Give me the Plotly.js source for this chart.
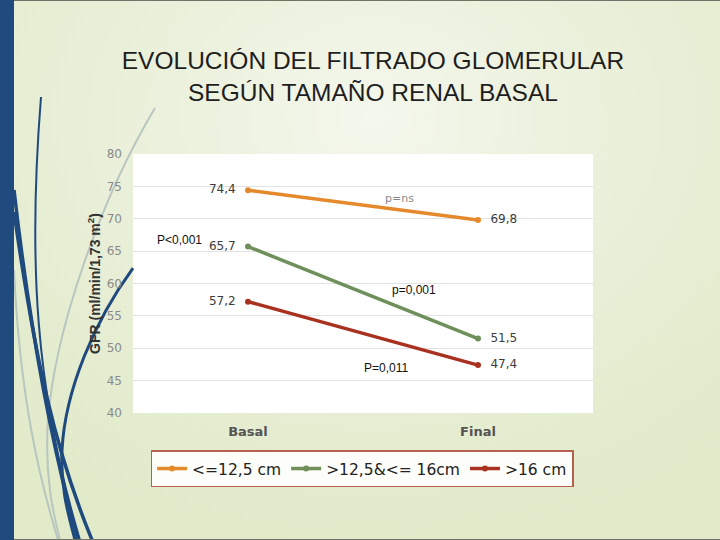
<!DOCTYPE html>
<html>
<head>
<meta charset="utf-8">
<script src="https://cdn.plot.ly/plotly-3.0.1.min.js"></script>
<style>
html,body{margin:0;padding:0;}
body{width:720px;height:540px;overflow:hidden;
background:radial-gradient(ellipse 75% 80% at 52% 22%, #f4f7ec 0%, #eaf0da 45%, #e1eac9 100%);}
#chart{width:720px;height:540px;}
</style>
</head>
<body>
<div id="chart"></div>
<script>
// ---- data ----
const categories = ["Basal", "Final"];
const seriesNames = ["&lt;=12,5 cm", "&gt;12,5&amp;&lt;= 16cm", "&gt;16 cm"];
const small = [74.4, 69.8];
const medium = [65.7, 51.5];
const large = [57.2, 47.4];
const labelsSmall = ["74,4", "69,8"];
const labelsMedium = ["65,7", "51,5"];
const labelsLarge = ["57,2", "47,4"];
const pTexts = ["p=ns", "P&lt;0,001", "p=0,001", "P=0,011"];
const yTickVals = [40, 45, 50, 55, 60, 65, 70, 75, 80];

const colors = ["#e58a2c", "#6f8f5b", "#a8321f"];
const values = [small, medium, large];
const labels = [labelsSmall, labelsMedium, labelsLarge];

const traces = values.map((v, i) => ({
  type: "scatter",
  mode: "lines+markers+text",
  x: categories,
  y: v,
  name: seriesNames[i],
  text: labels[i],
  texttemplate: ["%{text}&nbsp;&nbsp;", "&nbsp;&nbsp;%{text}"],
  textposition: ["middle left", "middle right"],
  textfont: {family: "DejaVu Sans, sans-serif", size: 12, color: "#3c3c3c"},
  line: {color: colors[i], width: 3.5},
  marker: {color: colors[i], size: 6},
  cliponaxis: false,
  hoverinfo: "skip"
}));

// plot-area geometry helpers for decorative shapes (pixel -> paper)
const L = 133, T = 154, W = 460, H = 259;
function P(x, y) { return ((x - L) / W).toFixed(4) + "," + ((T + H - y) / H).toFixed(4); }
function path(cmds) {
  return cmds.map(c => c[0] + " " + c.slice(1).map(p => P(p[0], p[1])).join(" ")).join(" ");
}
const blue = "#1f4a7e", gray = "#b9c6bf";
const deco = [
  {pts: [["M",[155,108]],["C",[100,200],[55,330],[48,420]],["C",[44,480],[55,520],[60,540]]], color: gray, w: 2},
  {pts: [["M",[14,270]],["C",[20,400],[40,480],[58,540]]], color: gray, w: 2},
  {pts: [["M",[41,97]],["C",[28,260],[35,390],[80,540]]], color: blue, w: 2},
  {pts: [["M",[14,190]],["C",[30,330],[50,440],[78,540]]], color: blue, w: 3.5},
  {pts: [["M",[14,212]],["C",[35,360],[55,450],[92,540]]], color: blue, w: 3.5},
  {pts: [["M",[133,268]],["C",[95,320],[65,390],[62,450]],["C",[60,490],[70,520],[75,540]]], color: blue, w: 3},
  {pts: [["M",[0,0.5]],["L",[720,0.5]]], color: "#6e7266", w: 1},
  {pts: [["M",[0,539.5]],["L",[720,539.5]]], color: "#6e7266", w: 1}
];
const shapes = deco.map(d => ({
  type: "path", xref: "paper", yref: "paper", layer: "below",
  path: path(d.pts), line: {color: d.color, width: d.w}
}));
shapes.push({type: "rect", xref: "paper", yref: "paper", layer: "below",
  x0: (0 - L) / W, x1: (14 - L) / W, y0: (T + H - 540) / H, y1: (T + H) / H,
  fillcolor: blue, line: {width: 0}});

const annFont = {family: "Liberation Sans, Arial, sans-serif", size: 12, color: "#111"};
const annotations = [
  {x: 0.66, y: 73.2, text: pTexts[0], font: {family: "DejaVu Sans, sans-serif", size: 11, color: "#888"}},
  {x: -0.30, y: 66.7, text: pTexts[1], font: annFont},
  {x: 0.72, y: 59.0, text: pTexts[2], font: annFont},
  {x: 0.60, y: 46.95, text: pTexts[3], font: annFont}
].map(a => Object.assign({xref: "x", yref: "y", showarrow: false}, a));

const layout = {
  width: 720, height: 540,
  margin: {l: L, r: 720 - L - W, t: T, b: 540 - T - H},
  paper_bgcolor: "rgba(0,0,0,0)",
  plot_bgcolor: "#ffffff",
  title: {
    text: "EVOLUCIÓN DEL FILTRADO GLOMERULAR<br>SEGÚN TAMAÑO RENAL BASAL",
    font: {family: "Liberation Sans, Arial, sans-serif", size: 24.5, color: "#1e1e1e"},
    x: 0.518, xanchor: "center", xref: "container",
    y: 0.872, yanchor: "top", yref: "container"
  },
  xaxis: {
    type: "category", range: [-0.5, 1.5],
    showgrid: false, zeroline: false, showline: false,
    tickfont: {family: "DejaVu Sans, sans-serif", size: 13, color: "#555"},
    tickprefix: "<b>", ticksuffix: "</b>",
    ticks: "", ticklabelstandoff: 9
  },
  yaxis: {
    range: [40, 80], tickvals: yTickVals,
    showgrid: true, gridcolor: "#e2e2e2", gridwidth: 1, zeroline: false, showline: false,
    tickfont: {family: "DejaVu Sans, sans-serif", size: 12, color: "#8a8a8a"},
    ticks: "", ticklabelstandoff: 10,
    title: {text: "<b>GFR (ml/min/1,73 m<sup>2</sup>)</b>", standoff: 2,
      font: {family: "Liberation Sans, Arial, sans-serif", size: 14, color: "#333"}}
  },
  legend: {
    orientation: "h", x: 0.498, xanchor: "center", y: -0.216, yanchor: "middle",
    bgcolor: "#fdfdf9", bordercolor: "#b8604f", borderwidth: 1.5,
    font: {family: "DejaVu Sans, sans-serif", size: 15.5, color: "#222"},
    itemwidth: 30
  },
  showlegend: true,
  shapes: shapes,
  annotations: annotations
};

Plotly.newPlot("chart", traces, layout, {displayModeBar: false, staticPlot: true});
</script>
</body>
</html>
